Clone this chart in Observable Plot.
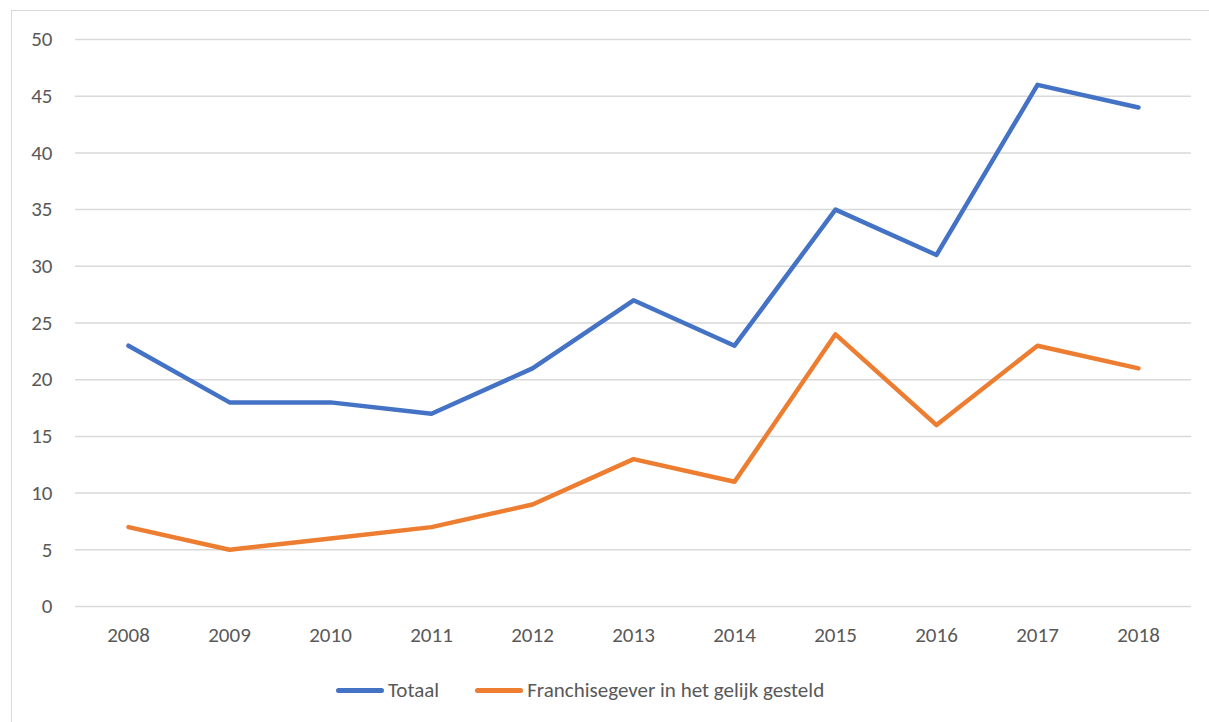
<!DOCTYPE html>
<html>
<head>
<meta charset="utf-8">
<script src="https://cdn.jsdelivr.net/npm/d3@7"></script>
<script src="https://cdn.jsdelivr.net/npm/@observablehq/plot@0.6"></script>
<style>
  html, body { margin: 0; padding: 0; background: #fff; overflow: hidden; width: 1209px; height: 722px; }
  body { position: relative; font-family: Carlito, Lato, sans-serif; }
  #frame { position: absolute; left: 11px; top: 10px; width: 1400px; height: 900px; border: 1.5px solid #d9d9d9; box-sizing: border-box; }
  #chart { position: absolute; left: 0; top: 0; }
  #legend { position: absolute; left: 336px; top: 675px; height: 30px; display: flex; align-items: center; font-size: 21px; color: #595959; }
  .item { display: flex; align-items: center; margin-right: 36px; }
  .swatch { width: 48px; height: 5px; border-radius: 3px; margin-right: 4px; }
</style>
</head>
<body>
<div id="frame"></div>
<div id="chart"></div>
<div id="legend"></div>
<script>
const years = ["2008","2009","2010","2011","2012","2013","2014","2015","2016","2017","2018"];
const totaal = [23, 18, 18, 17, 21, 27, 23, 35, 31, 46, 44];
const franchise = [7, 5, 6, 7, 9, 13, 11, 24, 16, 23, 21];
const seriesNames = ["Totaal", "Franchisegever in het gelijk gesteld"];
const seriesColors = ["#4472C4", "#ED7D31"];
const yTicks = [0, 5, 10, 15, 20, 25, 30, 35, 40, 45, 50];

const data = [];
years.forEach((y, i) => {
  data.push({year: y, value: totaal[i], series: seriesNames[0]});
  data.push({year: y, value: franchise[i], series: seriesNames[1]});
});

const chart = Plot.plot({
  width: 1209,
  height: 660,
  marginLeft: 75,
  marginRight: 18,
  marginTop: 39,
  marginBottom: 54,
  style: { fontFamily: "Carlito, Lato, sans-serif", fontSize: "21px", color: "#595959", background: "transparent", overflow: "visible" },
  x: { type: "point", domain: years, padding: 0.5, label: null },
  y: { domain: [0, 50], label: null },
  color: { domain: seriesNames, range: seriesColors },
  marks: [
    Plot.gridY(yTicks, { stroke: "#d9d9d9", strokeOpacity: 1, strokeWidth: 1.5 }),
    Plot.axisY(yTicks, { tickSize: 0, tickPadding: 23, fill: "#595959", fontSize: 21, label: null }),
    Plot.axisX({ tickSize: 0, tickPadding: 21, fill: "#595959", fontSize: 21, label: null }),
    Plot.line(data, { x: "year", y: "value", z: "series", stroke: "series", strokeWidth: 4.5, strokeLinecap: "round", strokeLinejoin: "round" })
  ]
});
document.getElementById("chart").appendChild(chart);

const legend = document.getElementById("legend");
seriesNames.forEach((name, i) => {
  const item = document.createElement("div");
  item.className = "item";
  const sw = document.createElement("div");
  sw.className = "swatch";
  sw.style.background = seriesColors[i];
  const t = document.createElement("span");
  t.textContent = name;
  item.appendChild(sw);
  item.appendChild(t);
  legend.appendChild(item);
});
</script>
</body>
</html>
